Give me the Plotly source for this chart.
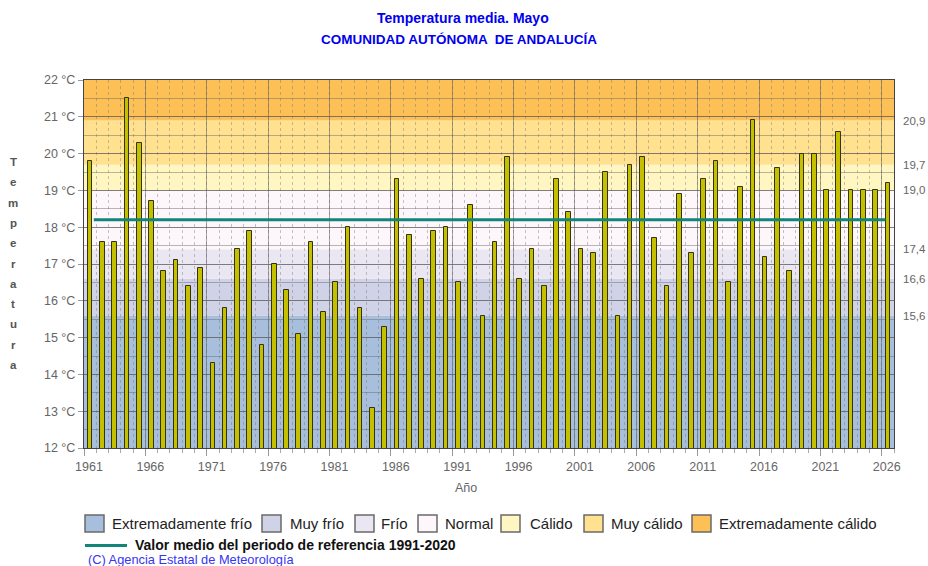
import plotly.graph_objects as go

# ---------------- data ----------------
years = list(range(1961, 2027))
temps = [19.8, 17.6, 17.6, 21.5, 20.3, 18.7, 16.8, 17.1, 16.4, 16.9,
         14.3, 15.8, 17.4, 17.9, 14.8, 17.0, 16.3, 15.1, 17.6, 15.7,
         16.5, 18.0, 15.8, 13.1, 15.3, 19.3, 17.8, 16.6, 17.9, 18.0,
         16.5, 18.6, 15.6, 17.6, 19.9, 16.6, 17.4, 16.4, 19.3, 18.4,
         17.4, 17.3, 19.5, 15.6, 19.7, 19.9, 17.7, 16.4, 18.9, 17.3,
         19.3, 19.8, 16.5, 19.1, 20.9, 17.2, 19.6, 16.8, 20.0, 20.0,
         19.0, 20.6, 19.0, 19.0, 19.0, 19.2]
ref_mean = 18.2
ref_mean_span = [1961.3, 2025.8]

band_edges = [12.0, 15.6, 16.6, 17.4, 19.0, 19.7, 20.9, 22.0]
band_names = ["Extremadamente frío", "Muy frío", "Frío", "Normal",
              "Cálido", "Muy cálido", "Extremadamente cálido"]
band_colors = ["#A7BFDD", "#D0D2E7", "#EAE7F2", "#FDF6FA",
               "#FFF6C2", "#FFE190", "#FDC057"]

y_ticks = list(range(12, 23))
y_ticklabels = [f"{v} °C" for v in y_ticks]
right_ticks = [15.6, 16.6, 17.4, 19.0, 19.7, 20.9]
right_ticklabels = ["15,6", "16,6", "17,4", "19,0", "19,7", "20,9"]
x_label_years = list(range(1961, 2027, 5))

# ---------------- geometry helpers ----------------
W, H = 928, 566
L, R, T, B = 84, 34, 80, 118
PW, PH = W - L - R, H - T - B


def px(x):  # x in pixels -> paper
    return (x - L) / PW


def py(y):  # y in pixels -> paper
    return (H - B - y) / PH


FONT = "Liberation Sans, Arial, sans-serif"


def label(text, x, y, size, color, xanchor="center"):
    return dict(text=text, xref="paper", yref="paper", x=px(x), y=py(y),
                xanchor=xanchor, yanchor="middle", showarrow=False,
                font=dict(family=FONT, size=size, color=color))


fig = go.Figure()

fig.add_trace(go.Bar(
    x=years, y=temps, width=0.38,
    marker=dict(color="#C4C000", line=dict(color="#333310", width=1)),
    showlegend=False, hoverinfo="x+y"))

fig.add_trace(go.Scatter(
    x=ref_mean_span, y=[ref_mean, ref_mean], mode="lines",
    line=dict(color="#12857A", width=3), yaxis="y2",
    showlegend=False, hoverinfo="skip"))

shapes = []
for i in range(len(band_names)):
    shapes.append(dict(type="rect", xref="paper", yref="y", layer="below",
                       x0=0, x1=1, y0=band_edges[i], y1=band_edges[i + 1],
                       fillcolor=band_colors[i], line=dict(width=0)))

annotations = []
annotations.append(label("<b>Temperatura media. Mayo</b>", 463, 18, 14, "#0000EE"))
annotations.append(label("<b>COMUNIDAD AUTÓNOMA \u00a0DE ANDALUCÍA</b>", 459, 40, 13.5, "#0000EE"))
for k, ch in enumerate("Temperatura"):
    annotations.append(label(f"<b>{ch}</b>", 13, 162 + k * 20.3, 11.5, "#555555"))
annotations.append(label("Año", 466, 488, 12.5, "#666666"))

# legend row 1
box_x = [85, 262, 355, 418, 501, 584, 692]
txt_x = [110, 288, 379, 443, 528, 609, 717]
for i, name in enumerate(band_names):
    shapes.append(dict(type="rect", xref="paper", yref="paper", layer="above",
                       x0=px(box_x[i]), x1=px(box_x[i] + 19), y0=py(532), y1=py(515),
                       fillcolor=band_colors[i], line=dict(color="#6A6A6A", width=1.5)))
    annotations.append(label(name, txt_x[i], 523.5, 15, "#222222", xanchor="left"))
# legend row 2
shapes.append(dict(type="line", xref="paper", yref="paper", x0=px(85), x1=px(127),
                   y0=py(545.5), y1=py(545.5), line=dict(color="#12857A", width=3)))
annotations.append(label("<b>Valor medio del periodo de referencia 1991-2020</b>",
                         133, 545, 14, "#111111", xanchor="left"))
annotations.append(label("(C) Agencia Estatal de Meteorología", 86, 559.5, 12.8, "#3535F5",
                         xanchor="left"))

tick_font = dict(family=FONT, size=12.5, color="#666666")

fig.update_layout(
    width=W, height=H, margin=dict(l=L, r=R, t=T, b=B, pad=0, autoexpand=False),
    paper_bgcolor="white", plot_bgcolor="white",
    bargap=0, showlegend=False,
    shapes=shapes, annotations=annotations,
    xaxis=dict(range=[1960.5, 2026.5],
               tickmode="array", tickvals=[y - 0.5 for y in x_label_years],
               ticktext=[str(y) for y in x_label_years], ticklabelshift=5,
               ticks="outside", ticklen=7, tickcolor="#999999",
               showgrid=True, gridcolor="rgba(95,95,95,0.55)", gridwidth=1,
               minor=dict(tick0=1960.5, dtick=1, ticks="outside", ticklen=4,
                          tickcolor="#aaaaaa", showgrid=True,
                          gridcolor="rgba(110,110,110,0.40)", griddash="dot"),
               showline=True, mirror=True, linecolor="#444444", linewidth=1.3,
               zeroline=False, tickfont=tick_font),
    yaxis=dict(range=[12, 22], tickmode="array", tickvals=y_ticks, ticktext=y_ticklabels,
               ticks="outside", ticklen=5, tickcolor="#999999",
               showgrid=True, gridcolor="rgba(90,90,90,0.6)", gridwidth=1,
               minor=dict(tick0=12, dtick=0.5, showgrid=True,
                          gridcolor="rgba(100,100,100,0.45)"),
               showline=True, mirror=True, linecolor="#444444", linewidth=1.3,
               zeroline=False, tickfont=tick_font),
    yaxis2=dict(range=[12, 22], overlaying="y", side="right", anchor="x",
                tickmode="array", tickvals=right_ticks, ticktext=right_ticklabels,
                ticks="", showgrid=False, zeroline=False, showline=False,
                ticklabelstandoff=8,
                tickfont=dict(family=FONT, size=11.5, color="#666666")),
)

fig.write_html(
    "out.html",
    config={"displayModeBar": False},
    post_script="document.body.style.margin='0';document.body.style.overflow='hidden';",
)
